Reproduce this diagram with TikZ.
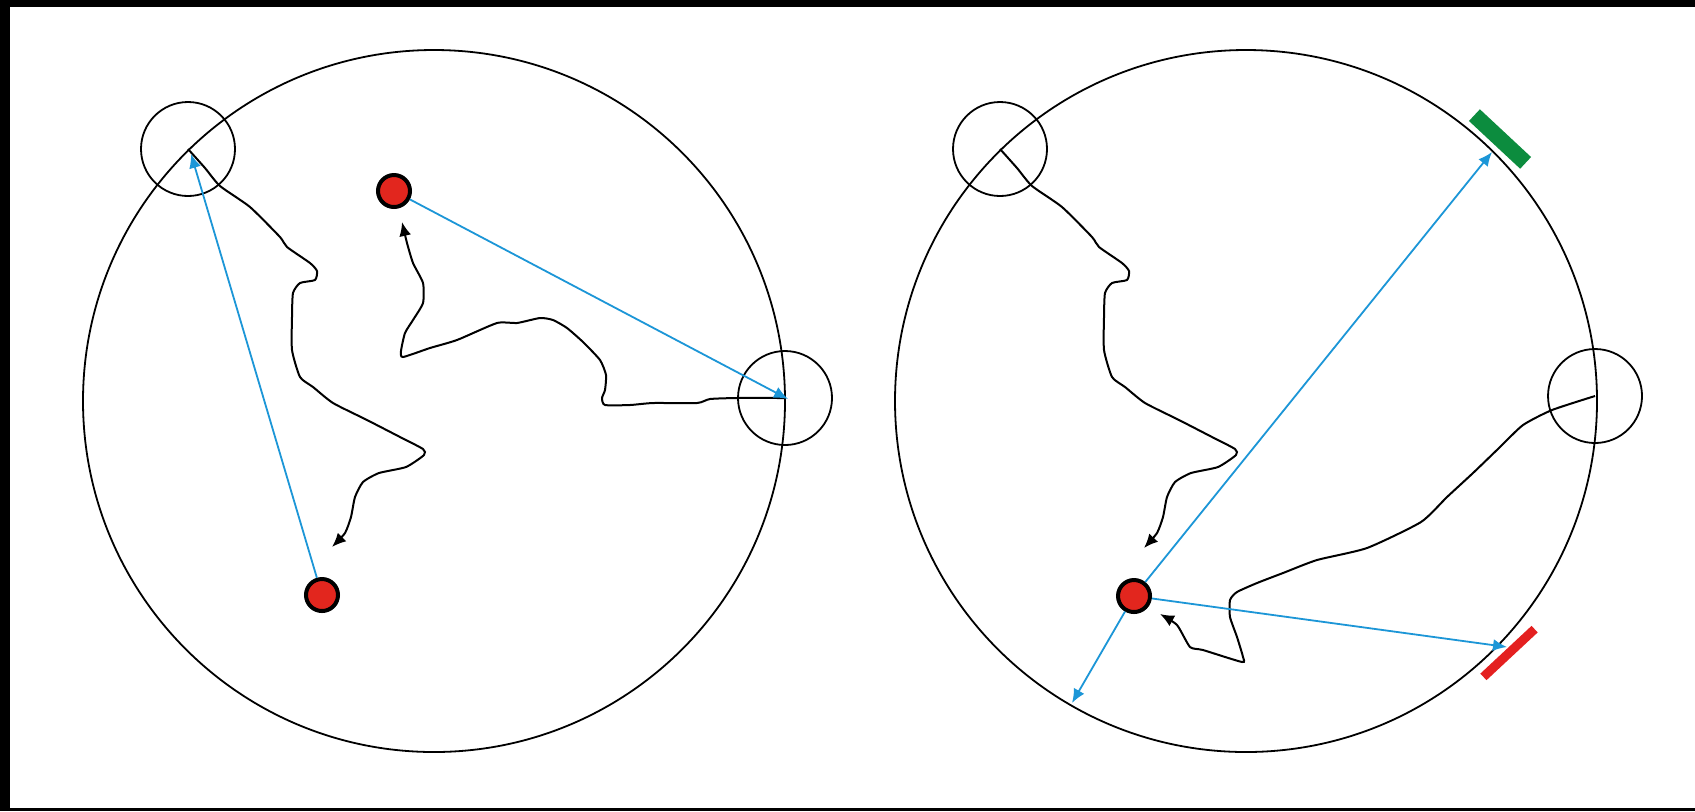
\documentclass[tikz,border=0pt]{standalone}
\usetikzlibrary{arrows.meta}
\definecolor{rayblue}{RGB}{28,150,215}
\definecolor{dotred}{RGB}{226,38,30}
\definecolor{padgreen}{RGB}{12,140,62}
\definecolor{padred}{RGB}{228,32,32}
\tikzset{line cap=round,line join=round,
  ring/.style={circle,draw,line width=0.9pt,minimum size=47pt,inner sep=0pt},
  dot/.style={circle,draw=black,line width=2pt,fill=dotred,minimum size=16pt,inner sep=0pt},
  ray/.style={rayblue,line width=0.9pt,-{Latex[length=7pt,width=6pt]}},
  trail/.style={black,line width=1pt,-{Latex[length=7pt,width=6pt]}},
  pad/.style={inner sep=0pt,minimum width=35pt}}

\begin{document}
\begin{tikzpicture}[x=0.5pt,y=-0.5pt]
  \path[use as bounding box] (0,0) rectangle (1695,811);
  % frame
  \fill[black] (0,0) rectangle (1695,811);
  \fill[white] (10,7) rectangle (1695,808);

  % left disc
  \draw[line width=0.9pt] (434,401) circle (351);
  \node[ring] (capA) at (188,149) {};
  \node[ring] (capB) at (785,398) {};
  \node[dot] (srcA) at (322,595) {};
  \node[dot] (srcB) at (394,191) {};
  \coordinate (hitA) at (191,154);
  \coordinate (hitB) at (788,399);
  \coordinate (endA) at (332,547);
  \coordinate (endB) at (402,222);
  \draw[trail] plot[smooth,tension=0.35] coordinates {(capA.center) (205,168) (220,186) (250,207)
    (280,237) (287,247) (310,263) (317,271) (315,280) (300,283) (293,293) (292,317) (292,350)
    (300,377) (313,387) (333,403) (367,420) (400,437) (423,449) (424,455) (406,467) (379,473)
    (363,482) (355,497) (351,517) (345,533) (endA)};
  \draw[trail] plot[smooth,tension=0.35] coordinates {(capB.center) (737,398) (710,399) (697,403)
    (653,403) (630,405) (605,405) (602,398) (605,390) (606,375) (600,360) (583,342) (567,328)
    (553,320) (540,318) (517,323) (497,323) (457,340) (430,348) (403,357) (401,351) (405,333)
    (413,320) (423,303) (423,283) (413,263) (407,243) (endB)};
  \draw[ray] (srcA) -- (hitA);
  \draw[ray] (srcB) -- (hitB);

  % right disc
  \draw[line width=0.9pt] (1246,401) circle (351);
  \node[ring] (capC) at (1000,149) {};
  \node[ring] (capD) at (1595,396) {};
  \node[pad,fill=padgreen,minimum height=8pt,rotate=-43] (padG) at (1500,139) {};
  \node[pad,fill=padred,minimum height=4.5pt,rotate=43] (padR) at (1509,653) {};
  \node[dot] (srcC) at (1134,596) {};
  \coordinate (hitC) at (1492,152);
  \coordinate (hitD) at (1072,703);
  \coordinate (hitE) at (1507,647);
  \coordinate (endC) at (1144,548);
  \coordinate (endD) at (1160,614);
  \draw[trail] plot[smooth,tension=0.35] coordinates {(capC.center) (1017,168) (1032,186) (1062,207)
    (1092,237) (1099,247) (1122,263) (1129,271) (1127,280) (1112,283) (1105,293) (1104,317)
    (1104,350) (1112,377) (1125,387) (1145,403) (1179,420) (1212,437) (1235,449) (1236,455)
    (1218,467) (1191,473) (1175,482) (1167,497) (1163,517) (1157,533) (endC)};
  \draw[trail] plot[smooth,tension=0.35] coordinates {(capD.center) (1552,410) (1523,425)
    (1500,447) (1473,473) (1447,497) (1421,522) (1367,548) (1317,560) (1283,573) (1257,583)
    (1237,592) (1230,600) (1230,617) (1237,637) (1243,657) (1242,662) (1203,650) (1190,647)
    (1177,625) (endD)};
  \draw[ray] (srcC) -- (hitC);
  \draw[ray] (srcC) -- (hitD);
  \draw[ray] (srcC) -- (hitE);
\end{tikzpicture}
\end{document}
